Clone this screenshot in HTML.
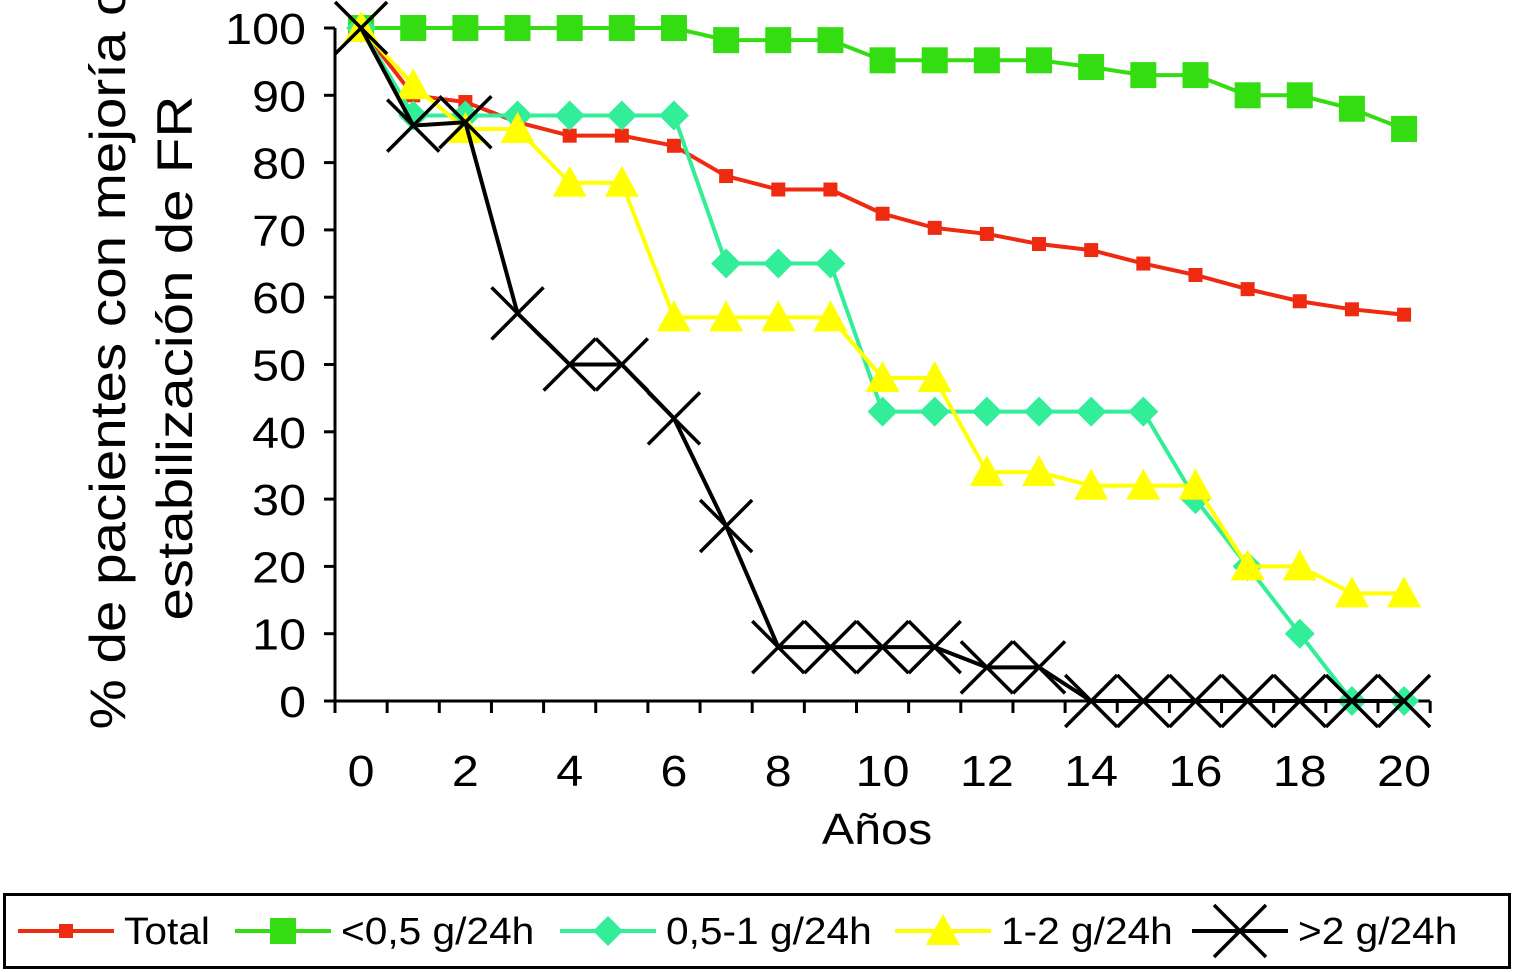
<!DOCTYPE html>
<html><head><meta charset="utf-8"><style>
html,body{margin:0;padding:0;background:#fff;}
svg{display:block;font-family:"Liberation Sans",Arial,sans-serif;}
</style></head><body>
<svg id="chart" width="1514" height="972" viewBox="0 0 1514 972" xmlns="http://www.w3.org/2000/svg">
<g id="lbl"></g>
<g id="axes"></g>
<g id="series"></g>
<g id="legend"></g>
</svg>
<script>
const categories=[0,1,2,3,4,5,6,7,8,9,10,11,12,13,14,15,16,17,18,19,20];
const xTickLabels=["0","2","4","6","8","10","12","14","16","18","20"];
const yTicks=[0,10,20,30,40,50,60,70,80,90,100];
const totalValues=[100,90,89,86,84,84,82.5,78,76,76,72.4,70.3,69.4,67.9,67,65,63.3,61.2,59.4,58.2,57.4];
const under05Values=[100,100,100,100,100,100,100,98.2,98.2,98.2,95.2,95.2,95.2,95.2,94.2,93,93,90,90,88,85];
const v05to1Values=[100,87,87,87,87,87,87,65,65,65,43,43,43,43,43,43,30,20,10,0,0];
const v1to2Values=[100,91.5,85,85,77,77,57,57,57,57,48,48,34,34,32,32,32,20,20,16,16];
const over2Values=[100,85.5,86,57.6,50,50,42,26,8,8,8,8,5,5,0,0,0,0,0,0,0];

const NS="http://www.w3.org/2000/svg";
const X0=335,CW=52.15,Y0=701,YS=6.73;
const xs=i=>X0+(i+0.5)*CW;
const ys=v=>Y0-v*YS;
function mk(tag,attrs,parent,text){const e=document.createElementNS(NS,tag);for(const k in attrs)e.setAttribute(k,attrs[k]);if(text!==undefined)e.textContent=text;parent.appendChild(e);return e;}
function stretch(t,f){const w=t.getComputedTextLength();if(w>0){t.setAttribute('textLength',(w*f).toFixed(1));t.setAttribute('lengthAdjust','spacingAndGlyphs');}}
const axes=document.getElementById('axes'),lbl=document.getElementById('lbl'),ser=document.getElementById('series'),leg=document.getElementById('legend');

let yl=mk('line',{x1:X0,y1:ys(100),x2:X0,y2:Y0,stroke:'#000','stroke-width':3},axes);

let xl=mk('line',{x1:X0,y1:Y0,x2:X0+21*CW,y2:Y0,stroke:'#000','stroke-width':3},axes);

yTicks.forEach(v=>{
  mk('line',{x1:X0-11,y1:ys(v),x2:X0,y2:ys(v),stroke:'#000','stroke-width':3},axes);
  const t=mk('text',{x:306,y:ys(v)+16,'text-anchor':'end','font-size':44},axes,String(v));
  
  stretch(t,1.1);
});
for(let i=0;i<=21;i++)mk('line',{x1:X0+i*CW,y1:Y0,x2:X0+i*CW,y2:Y0+12,stroke:'#000','stroke-width':3},axes);
xTickLabels.forEach((s,k)=>{
  const t=mk('text',{x:xs(k*2),y:786,'text-anchor':'middle','font-size':44},axes,s);
  
  stretch(t,1.1);
});
let xt=mk('text',{x:877,y:844,'text-anchor':'middle','font-size':44},lbl,'Años');

stretch(xt,1.1);
let yt1=mk('text',{x:0,y:0,'text-anchor':'middle','font-size':50,transform:'translate(125,357) rotate(-90)'},lbl,'% de pacientes con mejoría o');

yt1.setAttribute('textLength','745');yt1.setAttribute('lengthAdjust','spacingAndGlyphs');
let yt2=mk('text',{x:0,y:0,'text-anchor':'middle','font-size':50,transform:'translate(192,358) rotate(-90)'},lbl,'estabilización de FR');

yt2.setAttribute('textLength','525');yt2.setAttribute('lengthAdjust','spacingAndGlyphs');

function marker(type,x,y,color,g){
  if(type==='sq')return mk('rect',{x:x-7,y:y-7,width:14,height:14,fill:color},g);
  if(type==='bigsq')return mk('rect',{x:x-13,y:y-13,width:26,height:26,fill:color},g);
  if(type==='dia')return mk('polygon',{points:`${x},${y-15} ${x+15},${y} ${x},${y+15} ${x-15},${y}`,fill:color},g);
  if(type==='tri')return mk('polygon',{points:`${x},${y-17} ${x+17},${y+14} ${x-17},${y+14}`,fill:color},g);
  if(type==='x')return mk('path',{d:`M${x-26},${y-26}L${x+26},${y+26}M${x+26},${y-26}L${x-26},${y+26}`,stroke:color,'stroke-width':3.5,fill:'none'},g);
}
const seriesDefs=[
 ['total-series',totalValues,'#ee2a10','sq'],
 ['under-0-5-series',under05Values,'#33dd11','bigsq'],
 ['0-5-to-1-series',v05to1Values,'#33ee99','dia'],
 ['1-to-2-series',v1to2Values,'#ffff00','tri'],
 ['over-2-series',over2Values,'#000000','x']
];
seriesDefs.forEach(([name,vals,color,type])=>{
  const g=mk('g',{},ser);
  
  const pts=vals.map((v,i)=>xs(i)+','+ys(v)).join(' ');
  const pl=mk('polyline',{points:pts,fill:'none',stroke:color,'stroke-width':4},g);
  
  vals.forEach((v,i)=>{const m=marker(type,xs(i),ys(v),color,g);
    });
});

const box=mk('rect',{x:4.5,y:894.5,width:1505,height:73,fill:'#fff',stroke:'#000','stroke-width':3},leg);

const legItems=[['Total',18,'total'],['<0,5 g/24h',235,'under-0-5'],['0,5-1 g/24h',560,'0-5-to-1'],['1-2 g/24h',895,'1-to-2'],['>2 g/24h',1192,'over-2']];
legItems.forEach(([label,x0,nm],k)=>{
  const [,,color,type]=seriesDefs[k];
  const g=mk('g',{},leg);
  
  mk('line',{x1:x0,y1:931,x2:x0+96,y2:931,stroke:color,'stroke-width':4},g);
  marker(type,x0+48,931,color,g);
  const t=mk('text',{x:x0+106,y:944,'font-size':38},g,label);
  stretch(t,1.07);
});
</script>
</body></html>
